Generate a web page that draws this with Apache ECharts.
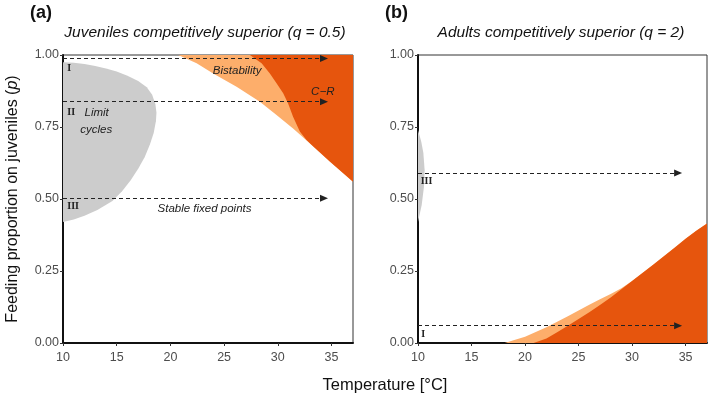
<!DOCTYPE html>
<html>
<head>
<meta charset="utf-8">
<script src="https://cdn.jsdelivr.net/npm/echarts@6/dist/echarts.min.js"></script>
<style>
  html, body { margin: 0; padding: 0; background: #fff; }
  #chart { width: 709px; height: 395px; }
</style>
</head>
<body>
<div id="chart"></div>
<script>
// panel (a) regions, [temperature, p]
const grayA = [[10, 0.975], [11, 0.973], [12, 0.969], [13, 0.962], [14, 0.953], [15, 0.943], [16, 0.928],
  [17, 0.91], [17.8, 0.888], [18.3, 0.862], [18.6, 0.83], [18.7, 0.8], [18.65, 0.77], [18.45, 0.73],
  [18.1, 0.69], [17.6, 0.645], [17, 0.605], [16.3, 0.565], [15.5, 0.527], [14.6, 0.493], [13.2, 0.462],
  [12, 0.442], [11, 0.429], [10, 0.42]];
const bistA = [[20.73, 1], [22.44, 0.971], [23.98, 0.936], [26.16, 0.89], [28.33, 0.838], [29.88, 0.792],
  [31.42, 0.745], [33.13, 0.688], [34.84, 0.63], [37, 0.56], [37, 1]];
const crA = [[27.4, 1], [28.49, 0.971], [29.26, 0.936], [29.88, 0.902], [30.5, 0.867], [30.96, 0.832],
  [31.42, 0.786], [32.05, 0.734], [32.67, 0.705], [33.13, 0.688], [34.84, 0.63], [37, 0.56], [37, 1]];
const arrowsA = [0.988, 0.838, 0.503];

// panel (b) regions
const grayB = [[10, 0.74], [10.3, 0.7], [10.5, 0.66], [10.62, 0.6], [10.55, 0.54], [10.35, 0.48], [10, 0.42]];
const bistB = [[18.1, 0], [19, 0.01], [20, 0.022], [21, 0.038], [22, 0.055], [23, 0.074], [24, 0.093],
  [25, 0.113], [26, 0.133], [27, 0.152], [28, 0.17], [29, 0.19], [30, 0.215], [31, 0.244], [32, 0.273],
  [33, 0.302], [34, 0.332], [35, 0.362], [36, 0.39], [37, 0.415], [37, 0]];
const crB = [[20.8, 0], [22, 0.016], [23, 0.037], [24, 0.06], [25, 0.083], [26, 0.107], [27, 0.132],
  [28, 0.158], [29, 0.187], [30, 0.215], [31, 0.244], [32, 0.273], [33, 0.302], [34, 0.332], [35, 0.362],
  [36, 0.39], [37, 0.415], [37, 0]];
const arrowsB = [0.59, 0.06];

// region labels [x, p, text, kind]
const labelsA = [[10.4, 0.955, 'I', 'roman'], [10.4, 0.8, 'II', 'roman'], [12, 0.8, 'Limit', 'it'],
  [11.6, 0.74, 'cycles', 'it'], [10.4, 0.475, 'III', 'roman'], [18.8, 0.465, 'Stable fixed points', 'it'],
  [23.95, 0.945, 'Bistability', 'it'], [33.1, 0.873, 'C\u2212R', 'it']];
const labelsB = [[10.25, 0.56, 'III', 'roman'], [10.3, 0.03, 'I', 'roman']];

const GRAY = '#cccccc', LIGHT = '#fdae6b', DARK = '#e6550d';

const chart = echarts.init(document.getElementById('chart'));

function polygon(idx, pts, color) {
  return {
    type: 'custom', xAxisIndex: idx, yAxisIndex: idx, clip: true, silent: true,
    data: pts,
    renderItem: (params, api) => {
      if (params.dataIndex !== 0) return null;
      return {
        type: 'polygon',
        shape: { points: pts.map(p => api.coord(p)) },
        style: { fill: color }
      };
    }
  };
}

function arrows(idx, ps) {
  return {
    type: 'line', xAxisIndex: idx, yAxisIndex: idx, data: [], silent: true,
    markLine: {
      silent: true,
      symbol: ['none', 'triangle'],
      symbolSize: [7, 8],
      label: { show: false },
      lineStyle: { color: '#222', type: [4, 3], width: 1 },
      data: ps.map(p => [{ coord: [10, p] }, { coord: [34.3, p] }])
    }
  };
}

function texts(idx, labels) {
  return {
    type: 'custom', xAxisIndex: idx, yAxisIndex: idx, silent: true,
    data: labels,
    renderItem: (params, api) => {
      const l = labels[params.dataIndex];
      const pt = api.coord([l[0], l[1]]);
      return {
        type: 'text', x: pt[0], y: pt[1],
        style: {
          text: l[2],
          fill: '#222',
          font: l[3] === 'roman' ? 'bold 10px "Liberation Serif", serif' : 'italic 11.5px "Liberation Sans", Arial, sans-serif',
          align: 'left', verticalAlign: 'middle'
        }
      };
    }
  };
}

function xAxis(idx) {
  return {
    type: 'value', gridIndex: idx, min: 10, max: 37, interval: 5,
    axisLine: { show: true, lineStyle: { color: '#111', width: 2 } },
    axisTick: { show: true, length: 3, lineStyle: { color: '#333' } },
    axisLabel: { color: '#4d4d4d', fontSize: 12.5, margin: 8, fontFamily: 'Liberation Sans',
      showMaxLabel: false },
    splitLine: { show: false }
  };
}

function yAxis(idx) {
  return {
    type: 'value', gridIndex: idx, min: 0, max: 1, interval: 0.25,
    axisLine: { show: true, lineStyle: { color: '#111', width: 2 } },
    axisTick: { show: true, length: 3, lineStyle: { color: '#333' } },
    axisLabel: { color: '#4d4d4d', fontSize: 12.5, margin: 4, fontFamily: 'Liberation Sans',
      formatter: v => v.toFixed(2) },
    splitLine: { show: false },
    name: idx === 0 ? '{n|Feeding proportion on juveniles (}{i|p}{n|)}' : '',
    nameLocation: 'middle', nameGap: 42, nameRotate: 90,
    nameTextStyle: {
      rich: {
        n: { fontSize: 16, color: '#111', fontFamily: 'Liberation Sans' },
        i: { fontSize: 16, color: '#111', fontFamily: 'Liberation Sans', fontStyle: 'italic' }
      }
    }
  };
}

const option = {
  animation: false,
  backgroundColor: '#fff',
  title: [
    { text: '(a)', left: 30, top: 4, padding: 0, textStyle: { fontSize: 18, fontWeight: 'bold', color: '#111', fontFamily: 'Liberation Sans' } },
    { text: '(b)', left: 385, top: 4, padding: 0, textStyle: { fontSize: 18, fontWeight: 'bold', color: '#111', fontFamily: 'Liberation Sans' } },
    { text: 'Juveniles competitively superior (q = 0.5)', left: 205, top: 25, padding: 0, textAlign: 'center',
      textStyle: { fontSize: 15.5, fontWeight: 'normal', fontStyle: 'italic', color: '#111', fontFamily: 'Liberation Sans' } },
    { text: 'Adults competitively superior (q = 2)', left: 561, top: 25, padding: 0, textAlign: 'center',
      textStyle: { fontSize: 15.5, fontWeight: 'normal', fontStyle: 'italic', color: '#111', fontFamily: 'Liberation Sans' } },
    { text: 'Temperature [\u00b0C]', left: 385, top: 377, padding: 0, textAlign: 'center',
      textStyle: { fontSize: 16.5, fontWeight: 'normal', color: '#111', fontFamily: 'Liberation Sans' } }
  ],
  grid: [
    { left: 63, top: 55, width: 290, height: 288, show: true, borderColor: '#333', borderWidth: 1 },
    { left: 418, top: 55, width: 289, height: 288, show: true, borderColor: '#333', borderWidth: 1 }
  ],
  xAxis: [xAxis(0), xAxis(1)],
  yAxis: [yAxis(0), yAxis(1)],
  series: [
    polygon(0, grayA, GRAY),
    polygon(0, bistA, LIGHT),
    polygon(0, crA, DARK),
    arrows(0, arrowsA),
    texts(0, labelsA),
    polygon(1, grayB, GRAY),
    polygon(1, bistB, LIGHT),
    polygon(1, crB, DARK),
    arrows(1, arrowsB),
    texts(1, labelsB)
  ]
};

chart.setOption(option);
</script>
</body>
</html>
